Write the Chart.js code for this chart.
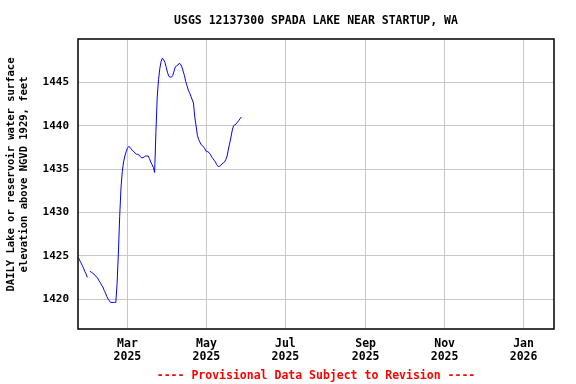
<!DOCTYPE html>
<html>
<head>
<meta charset="utf-8">
<script src="https://cdn.jsdelivr.net/npm/chart.js@4/dist/chart.umd.min.js"></script>
<style>
html,body{margin:0;padding:0;background:#fff;}
canvas{display:block;}
</style>
</head>
<body>
<canvas id="c" width="576" height="384"></canvas>
<script>
// ---- data ----
const chartTitle = 'USGS 12137300 SPADA LAKE NEAR STARTUP, WA';
const yTitleLines = ['DAILY Lake or reservoir water surface', 'elevation above NGVD 1929, feet'];
const footerText = '---- Provisional Data Subject to Revision ----';

const firstDate = '2025-01-22';   // date of first daily value
const elevation = [
  1424.8, 1424.5, 1424.2, 1423.9, 1423.6, 1423.2, 1422.9, 1422.5, null, 1423.2,
  1423.1, 1423.0, 1422.9, 1422.7, 1422.6, 1422.4, 1422.1, 1421.9, 1421.6, 1421.4,
  1421.0, 1420.7, 1420.3, 1420.0, 1419.8, 1419.6, 1419.6, 1419.6, 1419.6, 1419.6,
  1421.8, 1425.3, 1429.5, 1432.8, 1434.7, 1435.8, 1436.5, 1437.0, 1437.4, 1437.6,
  1437.5, 1437.3, 1437.1, 1437.0, 1436.8, 1436.7, 1436.7, 1436.6, 1436.4, 1436.3,
  1436.3, 1436.4, 1436.5, 1436.5, 1436.5, 1436.2, 1435.8, 1435.5, 1435.2, 1434.6,
  1439.3, 1443.3, 1445.3, 1446.6, 1447.4, 1447.8, 1447.6, 1447.3, 1446.7, 1446.1,
  1445.7, 1445.6, 1445.6, 1445.8, 1446.3, 1446.8, 1446.9, 1447.0, 1447.2, 1447.1,
  1446.8, 1446.3, 1445.8, 1445.1, 1444.6, 1444.1, 1443.8, 1443.4, 1443.0, 1442.6,
  1441.0, 1440.0, 1438.9, 1438.4, 1438.1, 1437.8, 1437.7, 1437.5, 1437.3, 1437.0,
  1437.0, 1436.9, 1436.7, 1436.4, 1436.2, 1436.0, 1435.8, 1435.5, 1435.3, 1435.3,
  1435.4, 1435.6, 1435.7, 1435.8, 1436.1, 1436.5, 1437.3, 1438.0, 1438.7, 1439.5,
  1440.0, 1440.1, 1440.2, 1440.4, 1440.6, 1440.8, 1441.0
];

const axisStart = '2025-01-22';
const axisEnd = '2026-01-24';
const tickDates = ['2025-03-01', '2025-05-01', '2025-07-01', '2025-09-01', '2025-11-01', '2026-01-01'];
const tickLabels = [['Mar', '2025'], ['May', '2025'], ['Jul', '2025'], ['Sep', '2025'], ['Nov', '2025'], ['Jan', '2026']];
const yTicks = [1420, 1425, 1430, 1435, 1440, 1445];
const yMin = 1416.54;
const yMax = 1450;

// ---- helpers ----
const DAY = 86400000;
const ORIGIN = Date.UTC(2025, 0, 1);
function dayNum(s) { const p = s.split('-').map(Number); return (Date.UTC(p[0], p[1] - 1, p[2]) - ORIGIN) / DAY; }
const firstDay = dayNum(firstDate);
const points = elevation.map((v, i) => ({ x: firstDay + i, y: v }));
const tickDays = tickDates.map(dayNum);

const FONT = '"DejaVu Sans Mono", monospace';

const decor = {
  id: 'decor',
  afterDraw(chart) {
    const ctx = chart.ctx, a = chart.chartArea;
    ctx.save();
    ctx.strokeStyle = '#000';
    ctx.lineWidth = 1.5;
    ctx.strokeRect(a.left, a.top, a.right - a.left, a.bottom - a.top);
    ctx.fillStyle = '#000';
    ctx.textAlign = 'center';
    ctx.textBaseline = 'middle';
    ctx.font = 'bold 11.5px ' + FONT;
    ctx.fillText(chartTitle, (a.left + a.right) / 2, 21);
    ctx.fillStyle = '#ff0000';
    ctx.fillText(footerText, (a.left + a.right) / 2, 376);
    ctx.fillStyle = '#000';
    ctx.font = 'bold 10.5px ' + FONT;
    const xs = [11, 24.5];
    yTitleLines.forEach((t, i) => {
      ctx.save();
      ctx.translate(xs[i], 174.5);
      ctx.rotate(-Math.PI / 2);
      ctx.fillText(t, 0, 0);
      ctx.restore();
    });
    ctx.restore();
  }
};

new Chart(document.getElementById('c'), {
  type: 'line',
  data: {
    datasets: [{
      data: points,
      borderColor: '#0000ff',
      borderWidth: 1,
      pointRadius: 0,
      tension: 0,
      spanGaps: false,
      fill: false
    }]
  },
  options: {
    responsive: false,
    animation: false,
    layout: { padding: { left: 0, right: 22, top: 39, bottom: 0 } },
    plugins: { legend: { display: false }, title: { display: false }, tooltip: { enabled: false } },
    scales: {
      x: {
        type: 'linear',
        min: dayNum(axisStart) - 0.2,
        max: dayNum(axisEnd) + 0.5,
        afterBuildTicks: s => { s.ticks = tickDays.map(v => ({ value: v })); },
        afterFit: s => { s.height = 55; },
        ticks: {
          autoSkip: false, maxRotation: 0, padding: 9, color: '#000',
          font: { family: FONT, size: 11.5, weight: 'bold', lineHeight: 1.1 },
          callback: v => { const i = tickDays.indexOf(v); return i >= 0 ? tickLabels[i] : ''; }
        },
        grid: { color: '#c8c8c8', lineWidth: 1, drawTicks: false },
        border: { display: false }
      },
      y: {
        min: yMin,
        max: yMax,
        afterBuildTicks: s => { s.ticks = yTicks.map(v => ({ value: v })); },
        afterFit: s => { s.width = 78; },
        ticks: {
          padding: 9, color: '#000',
          font: { family: FONT, size: 11, weight: 'bold' },
          callback: v => String(v)
        },
        grid: { color: '#c8c8c8', lineWidth: 1, drawTicks: false },
        border: { display: false }
      }
    }
  },
  plugins: [decor]
});
</script>
</body>
</html>
